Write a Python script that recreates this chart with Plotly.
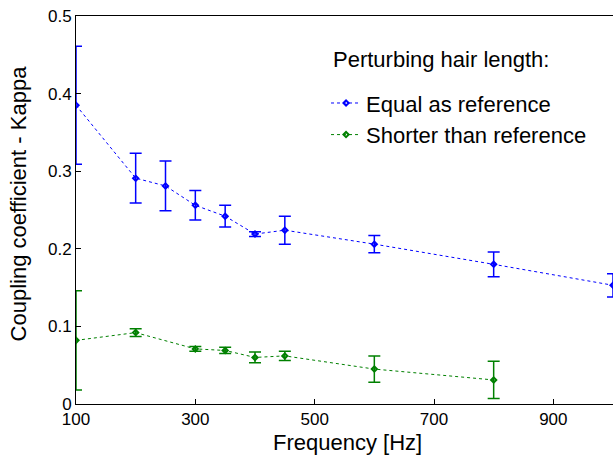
import plotly.graph_objects as go

freq_equal = [100, 200, 250, 300, 350, 400, 450, 600, 800, 1000]
kappa_equal = [0.385, 0.291, 0.281, 0.256, 0.242, 0.219, 0.224, 0.206, 0.180, 0.153]
err_equal = [0.076, 0.032, 0.032, 0.019, 0.014, 0.003, 0.018, 0.011, 0.016, 0.015]

freq_short = [100, 200, 300, 350, 400, 450, 600, 800]
kappa_short = [0.082, 0.092, 0.071, 0.069, 0.060, 0.062, 0.045, 0.031]
err_short = [0.064, 0.005, 0.003, 0.004, 0.007, 0.006, 0.017, 0.024]

x_ticks = [100, 300, 500, 700, 900]
y_ticks = [0, 0.1, 0.2, 0.3, 0.4, 0.5]
y_ticktext = ["0", "0.1", "0.2", "0.3", "0.4", "0.5"]

FONT = "Liberation Sans, Arial, sans-serif"

fig = go.Figure()
for name, xs, ys, es, col in [
    ("Equal as reference", freq_equal, kappa_equal, err_equal, "#0000ff"),
    ("Shorter than reference", freq_short, kappa_short, err_short, "#008000"),
]:
    fig.add_trace(go.Scatter(
        x=xs, y=ys, name=name, mode="lines+markers",
        line=dict(color=col, width=1, dash="dot"),
        marker=dict(symbol="diamond-open", size=4, color=col, line=dict(width=2, color=col)),
        error_y=dict(type="data", array=es, visible=True, color=col, thickness=1.5, width=6),
        cliponaxis=True,
    ))

axis_common = dict(
    showline=True, linecolor="black", linewidth=1, mirror=True,
    ticks="inside", ticklen=5, tickcolor="black", showgrid=False, zeroline=False,
    automargin=False,
    tickfont=dict(family=FONT, size=17, color="black"),
)

fig.update_layout(
    width=613, height=464,
    margin=dict(l=76, r=0, t=16, b=60),
    paper_bgcolor="white", plot_bgcolor="white",
    font=dict(family=FONT, color="black"),
    xaxis=dict(range=[100, 1000], tickvals=x_ticks, **axis_common),
    yaxis=dict(range=[0, 0.5], tickvals=y_ticks, ticktext=y_ticktext, **axis_common),
    legend=dict(x=0.4656, y=0.8294, xanchor="left", yanchor="top",
                bgcolor="rgba(0,0,0,0)", font=dict(family=FONT, size=22),
                itemwidth=30, tracegroupgap=0),
    showlegend=True,
    annotations=[
        dict(text="Perturbing hair length:", xref="paper", yref="paper",
             x=0.475, y=0.887, xanchor="left", yanchor="middle", showarrow=False,
             font=dict(family=FONT, size=22, color="black")),
        dict(text="Frequency [Hz]", xref="paper", yref="paper",
             x=0.5047, y=-0.1005, xanchor="center", yanchor="middle", showarrow=False,
             font=dict(family=FONT, size=22, color="black")),
        dict(text="Coupling coefficient - Kappa", xref="paper", yref="paper",
             x=-0.108, y=0.517, xanchor="center", yanchor="middle", showarrow=False,
             textangle=-90, font=dict(family=FONT, size=22, color="black")),
    ],
)

fig.write_html("out.html", config={"displayModeBar": False},
               post_script="document.body.style.margin='0';document.body.style.overflow='hidden';")
